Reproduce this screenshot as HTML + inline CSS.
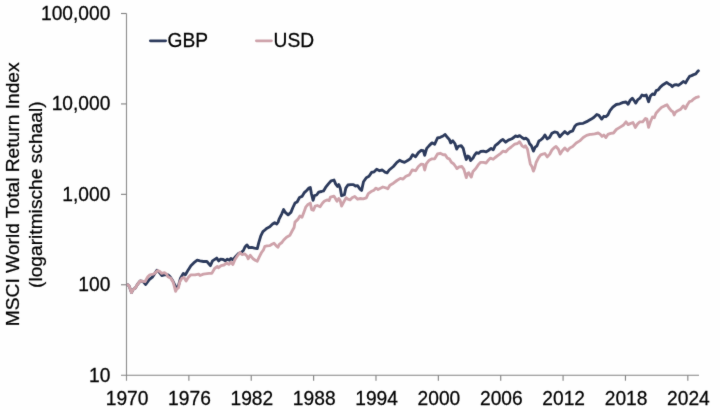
<!DOCTYPE html>
<html lang="nl">
<head>
<meta charset="utf-8">
<title>MSCI World Total Return Index</title>
<style>
html,body{margin:0;padding:0;background:#fefefe;}
body{width:720px;height:410px;overflow:hidden;}
svg{display:block;}
#c{width:720px;height:410px;}
text{font-family:"Liberation Sans",Arial,sans-serif;font-size:19.2px;fill:#000000;stroke:#000000;stroke-width:0.25px;}
</style>
</head>
<body>
<div id="c">
<svg width="720" height="410" viewBox="0 0 720 410">
<defs>
<filter id="soft" x="0" y="0" width="720" height="410" filterUnits="userSpaceOnUse" color-interpolation-filters="sRGB">
<feConvolveMatrix order="3" kernelMatrix="0.015 0.065 0.015 0.065 0.68 0.065 0.015 0.065 0.015" divisor="1" edgeMode="duplicate" preserveAlpha="false"/>
</filter>
</defs>
<g filter="url(#soft)">
<rect width="720" height="410" fill="#fefefe"/>
<g stroke="#858585" stroke-width="1.15" fill="none">
<path d="M126.50,13.50 V380.70" stroke="#909090"/>
<path d="M121.00,375.20 H699.00"/>
<path d="M121.00,13.50 H126.50"/>
<path d="M121.00,103.92 H126.50"/>
<path d="M121.00,194.35 H126.50"/>
<path d="M121.00,284.77 H126.50"/>
<path d="M188.87,375.20 V380.70"/>
<path d="M251.24,375.20 V380.70"/>
<path d="M313.61,375.20 V380.70"/>
<path d="M375.98,375.20 V380.70"/>
<path d="M438.35,375.20 V380.70"/>
<path d="M500.72,375.20 V380.70"/>
<path d="M563.09,375.20 V380.70"/>
<path d="M625.46,375.20 V380.70"/>
<path d="M687.83,375.20 V380.70"/>
</g>
<g text-anchor="end">
<text transform="translate(110.4 19.80) scale(1 1.04)">100,000</text>
<text transform="translate(110.4 110.30) scale(1 1.04)">10,000</text>
<text transform="translate(110.4 200.80) scale(1 1.04)">1,000</text>
<text transform="translate(110.4 291.30) scale(1 1.04)">100</text>
<text transform="translate(110.4 381.80) scale(1 1.04)">10</text>
</g>
<g text-anchor="middle">
<text transform="translate(127.10 404.7) scale(1 1.04)">1970</text>
<text transform="translate(189.47 404.7) scale(1 1.04)">1976</text>
<text transform="translate(251.84 404.7) scale(1 1.04)">1982</text>
<text transform="translate(314.21 404.7) scale(1 1.04)">1988</text>
<text transform="translate(376.58 404.7) scale(1 1.04)">1994</text>
<text transform="translate(438.95 404.7) scale(1 1.04)">2000</text>
<text transform="translate(501.32 404.7) scale(1 1.04)">2006</text>
<text transform="translate(563.69 404.7) scale(1 1.04)">2012</text>
<text transform="translate(626.06 404.7) scale(1 1.04)">2018</text>
<text transform="translate(688.43 404.7) scale(1 1.04)">2024</text>
</g>
<g text-anchor="middle">
<text transform="translate(19.1,194.3) rotate(-90)">MSCI World Total Return Index</text>
<text transform="translate(41.5,194.7) rotate(-90)">(logaritmische schaal)</text>
</g>
<path d="M150.4,40.8 H165.6" stroke="#2c3a5c" stroke-width="2.85" fill="none" stroke-linecap="round"/>
<text transform="translate(167.6 46.6) scale(1 1.04)">GBP</text>
<path d="M256.4,40.8 H271.4" stroke="#cea2aa" stroke-width="2.85" fill="none" stroke-linecap="round"/>
<text transform="translate(273.6 46.6) scale(1 1.04)">USD</text>
<path d="M127.9,284.8 L129.2,286.2 L130.2,288.9 L131.5,292.6 L133.2,289.4 L135.3,288.0 L137.4,284.5 L140.2,281.0 L142.9,281.4 L145.7,284.5 L149.2,279.6 L152.7,276.8 L156.9,270.3 L159.6,272.7 L161.7,275.5 L164.5,274.8 L168.0,274.8 L170.1,276.8 L172.9,281.0 L176.3,288.0 L178.4,285.9 L180.5,278.2 L183.3,273.4 L185.4,274.8 L188.2,269.9 L190.9,265.7 L193.7,262.9 L197.2,260.2 L200.0,260.9 L203.4,261.5 L206.9,261.5 L210.4,265.7 L212.5,260.9 L216.7,258.1 L218.7,260.9 L220.4,259.2 L223.2,259.5 L225.3,260.9 L227.4,259.2 L229.5,260.2 L230.9,258.5 L232.9,259.8 L235.7,256.4 L238.5,253.6 L241.3,252.3 L243.4,250.5 L245.0,247.0 L246.9,244.9 L248.9,247.7 L251.7,247.4 L254.5,248.1 L257.3,248.6 L258.7,242.8 L260.8,235.9 L262.9,231.7 L264.9,230.0 L267.0,228.2 L269.8,226.8 L272.6,224.0 L274.7,222.6 L276.8,224.0 L278.2,222.0 L279.0,219.4 L281.8,213.8 L283.6,209.6 L285.3,212.4 L288.1,214.8 L290.9,212.4 L292.9,207.5 L295.0,203.1 L297.1,202.0 L299.5,197.5 L302.0,196.4 L304.1,192.9 L306.9,190.2 L308.9,188.1 L310.3,187.4 L311.4,193.6 L313.1,200.3 L314.5,195.7 L316.6,195.0 L318.7,192.2 L321.5,191.5 L323.5,190.9 L325.6,187.4 L328.4,183.9 L331.2,180.8 L334.0,180.0 L335.6,183.9 L337.5,186.4 L338.8,184.6 L340.2,188.1 L341.6,195.7 L344.4,194.7 L345.8,188.1 L347.9,185.0 L350.7,184.6 L353.4,184.6 L355.5,186.0 L357.6,185.6 L359.7,188.8 L361.6,190.4 L363.5,181.8 L366.3,177.7 L369.0,176.3 L371.8,172.1 L373.9,172.1 L376.7,169.3 L379.5,170.7 L382.3,170.0 L385.0,172.1 L387.1,172.8 L389.2,170.0 L393.4,166.5 L396.9,162.4 L399.6,160.3 L402.4,161.7 L404.5,162.4 L408.0,160.3 L410.1,158.9 L412.6,154.7 L415.6,156.8 L418.4,152.6 L421.2,150.3 L423.3,150.6 L424.7,155.4 L426.7,148.4 L429.2,145.6 L432.0,142.9 L434.7,144.2 L437.5,138.0 L440.3,137.3 L443.1,135.9 L445.2,134.5 L447.3,137.3 L449.3,139.4 L450.7,142.9 L452.8,140.8 L454.9,143.5 L456.7,149.1 L458.4,146.3 L461.2,145.6 L463.2,148.4 L464.6,154.0 L466.3,159.5 L467.8,156.1 L469.2,156.8 L470.6,160.6 L473.0,158.1 L474.4,155.4 L476.5,152.6 L478.5,153.3 L480.6,151.5 L483.4,151.2 L486.2,151.9 L488.3,150.5 L491.1,148.4 L493.2,149.8 L495.2,145.6 L498.0,143.5 L500.8,140.8 L502.9,139.4 L505.7,142.2 L508.4,140.1 L511.9,138.7 L514.0,137.3 L515.4,135.9 L517.5,136.6 L519.6,135.6 L522.0,137.5 L524.0,138.9 L525.8,138.2 L528.2,140.2 L529.6,143.7 L531.4,145.8 L533.4,151.1 L535.2,147.2 L537.0,145.8 L538.9,140.9 L540.7,140.0 L542.8,138.2 L544.9,135.0 L547.3,138.9 L549.5,137.5 L551.9,133.3 L554.6,131.9 L557.4,132.6 L559.8,136.8 L562.3,134.0 L564.8,131.6 L567.6,134.0 L569.9,131.9 L572.7,130.8 L574.8,126.3 L576.9,124.3 L579.7,123.6 L583.2,123.3 L587.8,121.1 L591.3,119.1 L594.0,117.3 L596.8,114.5 L598.9,115.3 L601.7,119.1 L603.8,116.3 L605.9,116.7 L607.9,114.9 L610.0,110.7 L612.8,107.2 L616.3,104.5 L619.8,103.8 L623.2,102.4 L626.0,102.0 L628.1,104.2 L630.2,100.3 L632.3,98.2 L634.4,101.0 L635.8,103.1 L637.9,99.6 L639.9,98.2 L642.0,95.0 L644.1,95.8 L646.2,95.0 L648.6,101.7 L650.4,96.1 L652.5,94.0 L654.5,94.5 L656.2,90.6 L658.2,89.9 L660.3,87.1 L663.1,84.7 L666.6,82.5 L668.7,83.9 L670.8,85.0 L672.2,86.7 L674.2,85.0 L676.3,84.7 L678.4,85.3 L680.5,83.9 L683.3,81.5 L685.6,82.9 L687.5,79.5 L689.5,76.4 L691.6,75.6 L693.7,74.6 L695.8,73.9 L697.2,72.0 L698.4,70.7" stroke="#2c3a5c" stroke-width="2.85" fill="none" stroke-linejoin="round" stroke-linecap="round"/>
<path d="M127.9,284.8 L129.2,286.2 L130.2,288.9 L131.5,292.6 L133.2,289.4 L135.3,288.0 L137.4,284.5 L140.2,281.0 L142.9,281.4 L145.0,281.7 L147.8,276.8 L149.9,274.8 L153.4,274.1 L155.5,272.7 L157.6,270.6 L159.6,271.3 L161.7,273.4 L164.5,272.7 L166.6,274.1 L168.0,276.8 L170.8,278.2 L172.9,281.7 L174.2,285.9 L175.6,291.4 L177.0,288.7 L178.4,288.0 L179.8,281.7 L181.9,278.2 L184.0,277.5 L186.1,281.0 L188.2,277.5 L190.9,274.8 L195.1,274.8 L198.6,274.1 L200.0,275.5 L203.4,274.1 L209.0,273.4 L211.8,273.4 L214.6,268.5 L217.4,266.4 L218.3,267.8 L221.1,265.7 L223.9,265.0 L226.7,263.0 L228.8,264.4 L230.9,262.3 L232.9,264.4 L235.0,259.5 L237.8,255.3 L239.9,252.5 L242.0,254.6 L244.8,253.9 L246.9,256.0 L248.2,258.8 L250.3,255.3 L253.1,258.8 L255.2,260.2 L257.3,261.2 L259.4,256.7 L261.5,252.5 L263.5,249.8 L264.9,246.3 L267.0,245.9 L269.8,245.6 L271.9,244.2 L274.0,243.2 L276.1,245.6 L277.9,247.3 L279.5,244.2 L281.6,242.8 L283.7,240.0 L286.5,237.2 L290.0,235.2 L292.1,231.0 L294.1,227.5 L295.0,222.1 L297.8,219.4 L299.9,215.9 L302.0,217.3 L304.1,211.7 L305.9,206.8 L307.6,204.8 L310.3,203.1 L311.7,209.6 L313.4,210.3 L315.2,206.1 L317.3,205.5 L320.1,206.8 L322.2,203.4 L324.2,201.3 L327.0,199.9 L329.1,200.6 L330.5,197.1 L334.0,196.1 L335.4,198.5 L337.0,201.3 L338.8,198.5 L340.2,200.6 L341.6,206.1 L343.7,202.0 L346.2,197.8 L347.9,199.2 L350.0,199.9 L352.1,197.8 L354.8,196.4 L357.6,199.2 L360.4,198.5 L363.2,198.9 L366.3,197.8 L368.3,193.7 L371.1,191.6 L373.9,190.2 L376.0,188.1 L378.1,189.5 L380.9,188.1 L382.9,187.0 L385.7,187.8 L387.8,188.8 L389.9,185.3 L393.4,183.2 L396.9,180.5 L400.3,178.4 L403.1,179.1 L405.9,176.3 L409.4,174.9 L412.2,170.0 L415.6,170.7 L418.4,166.5 L421.2,164.2 L423.3,164.5 L424.7,170.0 L426.4,163.7 L429.2,160.2 L432.0,158.8 L434.7,158.8 L437.5,154.0 L440.3,153.3 L443.1,154.7 L445.2,154.7 L447.3,158.1 L449.3,158.8 L451.4,162.3 L453.5,163.7 L455.6,166.5 L457.0,168.6 L459.1,166.8 L461.9,166.5 L463.9,169.3 L465.3,174.1 L466.3,177.6 L467.4,173.7 L468.8,172.7 L470.2,175.5 L471.3,177.1 L473.0,171.4 L475.8,168.6 L478.5,164.4 L480.6,162.3 L483.4,162.3 L486.2,163.0 L488.3,160.2 L490.4,158.1 L493.2,159.3 L495.2,157.5 L498.0,155.4 L500.8,153.3 L502.9,151.2 L505.7,151.9 L508.4,149.1 L511.2,147.0 L514.7,144.2 L517.5,143.5 L519.6,141.7 L522.0,145.8 L524.0,147.2 L525.4,145.8 L527.5,149.3 L528.9,156.9 L530.3,163.9 L532.0,166.7 L533.4,171.1 L534.7,168.0 L536.1,162.5 L538.6,157.6 L540.7,154.8 L542.8,154.1 L544.9,153.5 L547.3,156.9 L549.8,154.1 L551.9,150.0 L553.9,147.9 L556.0,146.5 L558.4,149.3 L560.2,154.1 L562.3,150.7 L564.8,147.9 L567.6,150.7 L569.9,147.9 L572.7,146.5 L576.2,143.0 L579.7,140.9 L583.2,137.5 L586.6,135.4 L590.1,134.4 L591.3,134.4 L594.7,133.9 L598.2,133.0 L600.3,134.4 L602.0,136.4 L603.8,135.0 L605.9,137.6 L607.9,134.4 L610.7,133.4 L613.5,133.0 L616.3,129.5 L619.8,127.4 L623.2,125.3 L626.0,121.8 L628.1,124.6 L630.2,123.6 L633.0,122.5 L635.3,127.4 L637.6,123.9 L639.9,121.8 L642.7,121.8 L645.5,118.4 L646.9,119.1 L648.6,127.4 L650.4,121.8 L652.5,117.0 L654.3,117.7 L656.0,113.2 L658.9,110.0 L661.7,107.3 L664.5,105.9 L667.0,104.8 L669.0,108.0 L671.2,110.7 L672.9,111.7 L674.2,114.9 L675.6,112.1 L677.7,110.7 L680.5,109.4 L683.3,105.9 L685.4,108.7 L687.5,104.5 L689.5,101.7 L691.6,101.0 L693.7,98.9 L696.5,97.3 L698.4,96.8" stroke="#cea2aa" stroke-width="2.85" fill="none" stroke-linejoin="round" stroke-linecap="round"/>
</g>
</svg>
</div>
</body>
</html>
